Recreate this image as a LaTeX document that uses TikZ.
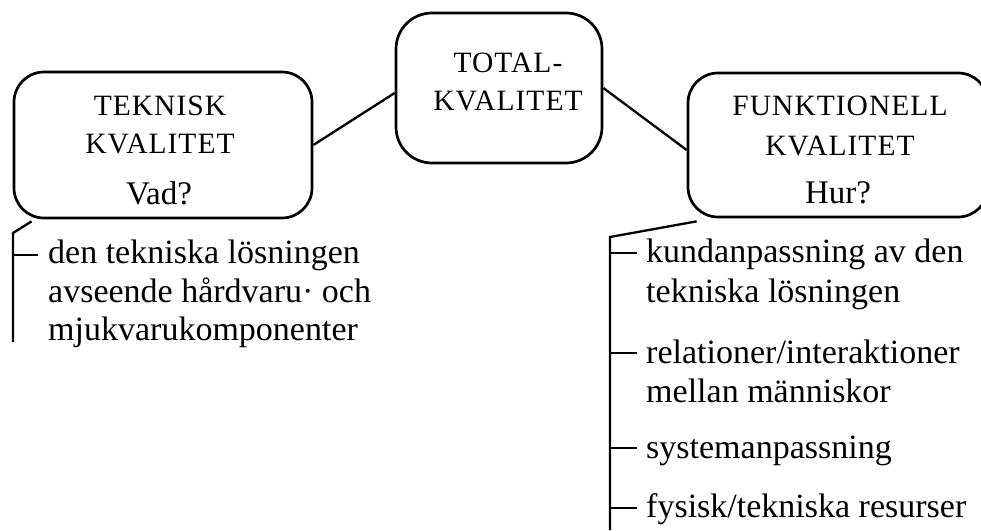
\documentclass[tikz,border=0pt]{standalone}
\usepackage{fontspec}
\setmainfont{Liberation Serif}
\begin{document}
\begin{tikzpicture}[x=1pt,y=-1pt,
  box/.style={draw,line width=2.7pt,rounded corners=30pt,inner sep=0pt},
  conn/.style={line width=2.3pt},
  txt/.style={inner sep=0pt,anchor=base,font=\fontsize{29.5}{32}\selectfont\addfontfeatures{LetterSpace=3.5}},
  qtxt/.style={inner sep=0pt,anchor=base,font=\fontsize{33}{36}\selectfont},
  item/.style={inner sep=0pt,anchor=base west,font=\fontsize{34}{38}\selectfont},
  tick/.style={line width=2.3pt}]
\useasboundingbox (0,0) rectangle (981,530);
\clip (0,0) rectangle (981,530);
% boxes
\node[box,minimum width=298pt,minimum height=146pt] (lbox) at (163,145) {};
\node[box,rounded corners=36pt,minimum width=206pt,minimum height=150pt] (cbox) at (499,88) {};
\node[box,minimum width=300pt,minimum height=144pt] (rbox) at (838,145) {};
% box texts
\node[txt] (l1) at (160,115) {TEKNISK};
\node[txt] (l2) at (160,153) {KVALITET};
\node[qtxt] (l3) at (159,204) {Vad?};
\node[txt] (c1) at (508,72) {TOTAL-};
\node[txt] (c2) at (508,110) {KVALITET};
\node[txt] (r1) at (840,115) {FUNKTIONELL};
\node[txt] (r2) at (840,155) {KVALITET};
\node[qtxt] (r3) at (838,203) {Hur?};
% connectors between boxes
\draw[conn] (lbox.east) -- ([yshift=-5pt]cbox.west);
\draw[conn] (cbox.east) -- ([yshift=-5pt]rbox.west);
% left bracket
\coordinate (lb0) at ([xshift=19pt,yshift=-2pt]lbox.south west);
\coordinate (lb1) at (13,233);
\coordinate (lb2) at (13,342);
\draw[conn] (lb0) -- (lb1) -- (lb2);
\node[item] (li1) at (48,263) {den tekniska lösningen};
\node[item] (li2) at (48,302) {avseende hårdvaru· och};
\node[item] (li3) at (48,340) {mjukvarukomponenter};
\coordinate (lt1) at (38,255);
\draw[tick] (lb1 |- lt1) -- (lt1);
% right bracket
\coordinate (rb0) at ([xshift=10pt,yshift=-3pt]rbox.south west);
\coordinate (rb1) at (610,237);
\coordinate (rb2) at (610,530);
\draw[conn] (rb0) -- (rb1) -- (rb2);
\node[item] (ri1) at (646,262) {kundanpassning av den};
\node[item] (ri2) at (646,302) {tekniska lösningen};
\node[item] (ri3) at (646,363) {relationer/interaktioner};
\node[item] (ri4) at (646,402) {mellan människor};
\node[item] (ri5) at (646,458) {systemanpassning};
\node[item] (ri6) at (646,517) {fysisk/tekniska resurser};
\foreach \n/\y in {1/253,3/353,5/448,6/508}{
  \coordinate (rt\n) at (637,\y);
  \draw[tick] (rb1 |- rt\n) -- (rt\n);
}
\end{tikzpicture}
\end{document}
